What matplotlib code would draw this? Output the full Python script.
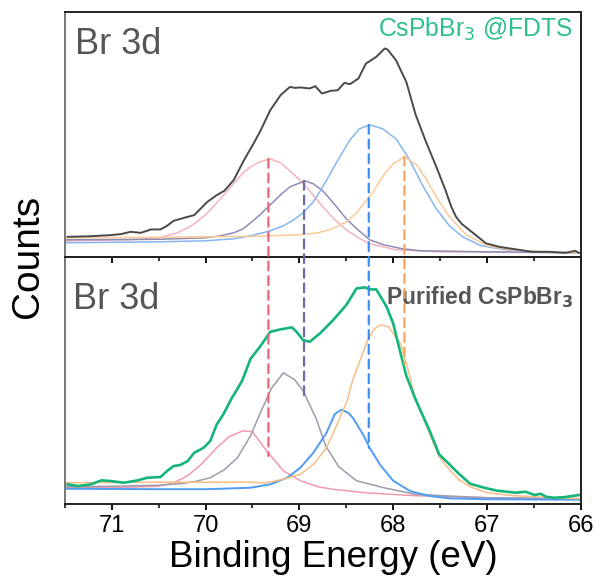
import matplotlib
matplotlib.use("Agg")
import matplotlib.pyplot as plt
from matplotlib.patches import ConnectionPatch
from matplotlib.ticker import MultipleLocator

plt.rcParams['font.family'] = ['Liberation Sans', 'DejaVu Sans']

# ---- top panel: CsPbBr3 @FDTS (measured + fitted components) ----
top_e = [71.47, 71.25, 71.01, 70.90, 70.80, 70.69, 70.58, 70.48, 70.41, 70.34, 70.19, 70.12,
         69.98, 69.88, 69.80, 69.70, 69.59, 69.49, 69.42, 69.31, 69.20, 69.10, 69.05, 68.99,
         68.89, 68.83, 68.76, 68.70, 68.67, 68.59, 68.52, 68.46, 68.37, 68.29, 68.18, 68.09,
         68.06, 67.97, 67.86, 67.76, 67.65, 67.54, 67.44, 67.38, 67.33, 67.27, 67.19, 67.01,
         66.87, 66.69, 66.52, 66.34, 66.16, 66.06, 66.02]
top_counts = [20, 20.5, 21.7, 22.7, 25, 24, 27.4, 27.4, 31, 36, 40, 41.7,
              55, 61.7, 66, 76.7, 96.7, 113, 125, 146.7, 161.7, 170, 169, 169.4,
              168.4, 170.7, 163.4, 165, 166, 166.7, 174, 172.7, 178.4, 193.4, 200, 208.4,
              207.4, 196.7, 175, 142, 115, 90, 66, 50, 40, 33, 27, 13.4,
              10, 7.4, 5, 5, 4, 6, 4]

top_pink_e = [71.5, 70.8, 70.5, 70.3, 70.15, 70.0, 69.85, 69.73, 69.6, 69.52, 69.42, 69.31,
              69.2, 69.03, 68.89, 68.75, 68.62, 68.5, 68.37, 68.25, 67.97, 67.5, 66.0]
top_pink = [16, 17, 19, 24, 31, 42, 57, 70, 84, 90, 95, 98,
            94, 80, 66, 50, 37, 27, 19, 13, 7, 5, 4]

top_purple_e = [71.5, 70.5, 70.0, 69.84, 69.7, 69.6, 69.52, 69.42, 69.31, 69.2, 69.1, 68.94,
                68.85, 68.75, 68.62, 68.5, 68.4, 68.25, 68.1, 67.9, 67.7, 67.0, 66.0]
top_purple = [17, 17.5, 19, 21, 24, 28, 34, 42, 52, 62, 70, 76,
              73, 66, 52, 38, 29, 17, 12, 8, 6, 5, 4]

top_blue_e = [71.5, 70.5, 70.0, 69.7, 69.52, 69.31, 69.17, 69.06, 68.96, 68.85, 68.75, 68.6,
              68.46, 68.36, 68.25, 68.11, 67.97, 67.83, 67.69, 67.54, 67.4, 67.26, 67.06,
              66.8, 66.5, 66.0]
top_blue = [14, 15, 16, 18, 21, 26, 31, 37, 44, 55, 70, 95,
            117, 128, 132, 128, 118, 98, 72, 48, 31, 20, 11,
            7, 5, 4]

top_orange_e = [71.5, 70.5, 70.0, 69.5, 69.0, 68.8, 68.65, 68.5, 68.4, 68.3, 68.22, 68.1,
                68.0, 67.88, 67.75, 67.65, 67.54, 67.4, 67.22, 67.0, 66.75, 66.4, 66.0]
top_orange = [19, 19.5, 20, 20.5, 22, 24, 28, 35, 43, 55, 64, 82,
              93, 100, 92, 78, 60, 40, 22, 11, 7, 5, 4]

# ---- bottom panel: purified CsPbBr3 ----
bot_e = [71.47, 71.36, 71.22, 71.11, 71.01, 70.87, 70.72, 70.62, 70.48, 70.41, 70.34, 70.27,
         70.19, 70.12, 70.02, 69.95, 69.88, 69.81, 69.73, 69.66, 69.61, 69.52, 69.42, 69.31,
         69.20, 69.08, 69.03, 68.96, 68.89, 68.78, 68.64, 68.50, 68.39, 68.30, 68.25, 68.18,
         68.07, 68.00, 67.93, 67.86, 67.76, 67.61, 67.51, 67.40, 67.30, 67.18, 67.03, 66.89,
         66.69, 66.59, 66.49, 66.43, 66.37, 66.29, 66.18, 66.02]
bot_counts = [19.4, 17.7, 19.4, 23.4, 22.7, 21, 23.4, 26, 26.7, 32.7, 37.7, 38.7,
              42.7, 51, 56, 62.7, 79.4, 89.4, 104, 115, 123, 145, 157, 172,
              174.4, 176.4, 172, 163.7, 162, 170.4, 183.7, 198.7, 215.4, 216.4, 214.4, 214.4,
              197, 180.4, 153.7, 128, 104, 72.7, 49.4, 39.4, 30, 20, 16, 13,
              11, 12, 8.7, 10, 7, 6, 6.5, 8.7]

bot_pink_e = [71.5, 70.8, 70.5, 70.34, 70.19, 70.05, 69.88, 69.75, 69.6, 69.5, 69.35, 69.17,
              68.99, 68.8, 68.64, 68.3, 67.76, 67.0, 66.0]
bot_pink = [16, 16.5, 17.5, 21, 28, 39, 56, 67, 73, 72, 53, 33,
            23, 17, 14.4, 11, 8, 6, 5]

bot_gray_e = [71.5, 71.0, 70.5, 70.27, 70.12, 69.95, 69.8, 69.66, 69.52, 69.42, 69.3, 69.17,
              69.05, 68.96, 68.82, 68.72, 68.58, 68.39, 68.1, 67.76, 67.4, 67.0, 66.0]
bot_gray = [17, 17.5, 18.5, 20, 22, 26, 34, 46, 68, 90, 115, 131,
            124, 113, 85, 58, 37, 23, 16, 9.4, 7.7, 6, 5]

bot_blue_e = [71.5, 70.5, 70.0, 69.52, 69.31, 69.13, 68.99, 68.85, 68.71, 68.62, 68.55, 68.48,
              68.43, 68.32, 68.25, 68.14, 68.0, 67.82, 67.61, 67.4, 67.0, 66.0]
bot_blue = [15, 14.5, 14.5, 16, 19.4, 26, 36, 51, 71, 90, 94, 91,
            86, 69, 56, 39, 23, 12.7, 7.7, 5.4, 4.5, 4]

bot_orange_e = [71.5, 70.5, 69.5, 69.38, 69.17, 68.99, 68.85, 68.71, 68.6, 68.49, 68.43, 68.35,
                68.27, 68.2, 68.13, 68.05, 67.92, 67.83, 67.77, 67.61, 67.51, 67.4, 67.3,
                67.18, 67.0, 66.7, 66.3, 66.0]
bot_orange = [21, 21.5, 21.5, 20.7, 24.4, 29.4, 39.4, 56, 79, 103, 124, 144,
              164, 175, 179, 177, 160, 130, 107, 70, 47, 34, 24,
              17, 11, 8, 6, 5]

# dashed guide lines: position, height in top panel, height in bottom panel
guide_e = [69.33, 68.95, 68.26, 67.88]
guide_top = [98, 76, 132, 100]
guide_bot = [47.7, 106, 56, 140]
guide_colors = ['#f06478', '#6c6aa8', '#3b8ef0', '#f7a35c']

xticks = [71, 70, 69, 68, 67, 66]

fig = plt.figure(figsize=(6, 5.81), dpi=100)
ax_top = fig.add_axes([0.108, 0.558, 0.860, 0.421])
ax_bot = fig.add_axes([0.108, 0.133, 0.860, 0.425])
ax_bot.patch.set_visible(False)

ax_top.plot(top_pink_e, top_pink, color='#f6b3bf', lw=1.1)
ax_top.plot(top_purple_e, top_purple, color='#8e8cb4', lw=1.1)
ax_top.plot(top_blue_e, top_blue, color='#86b6f2', lw=1.1)
ax_top.plot(top_orange_e, top_orange, color='#fbcb98', lw=1.1)
ax_top.plot(top_e, top_counts, color='#4a4a4a', lw=1.4)

ax_bot.plot(bot_pink_e, bot_pink, color='#f29aae', lw=1.1)
ax_bot.plot(bot_gray_e, bot_gray, color='#9d9cab', lw=1.1)
ax_bot.plot(bot_blue_e, bot_blue, color='#4f9cf2', lw=1.4)
ax_bot.plot(bot_orange_e, bot_orange, color='#f9bd86', lw=1.1)
ax_bot.plot(bot_e, bot_counts, color='#14b57a', lw=1.9)

ax_top.set_ylim(0, 244.7)
ax_bot.set_ylim(0, 247)

for ax in (ax_top, ax_bot):
    ax.set_xlim(71.5, 66)
    ax.set_xticks(xticks)
    ax.xaxis.set_minor_locator(MultipleLocator(0.5))
    ax.tick_params(axis='x', which='major', direction='out', length=4, width=1.3,
                   labelsize=17, pad=4)
    ax.tick_params(axis='x', which='minor', direction='out', length=3, width=1.1)
    ax.set_yticks([])
    for s in ax.spines.values():
        s.set_linewidth(1.4)
        s.set_color('#222222')
    ax.spines['left'].set_color('#777777')
ax_top.tick_params(axis='x', labelbottom=False)

for e, yt, yb, c in zip(guide_e, guide_top, guide_bot, guide_colors):
    con = ConnectionPatch(xyA=(e, yt), coordsA=ax_top.transData,
                          xyB=(e, yb), coordsB=ax_bot.transData,
                          color=c, lw=1.6, linestyle=(0, (4, 2.6)))
    fig.add_artist(con)

ax_top.text(0.02, 0.83, 'Br 3d', transform=ax_top.transAxes, fontsize=26, color='#555555')
ax_top.text(0.985, 0.90, 'CsPbBr$_3$ @FDTS', transform=ax_top.transAxes, fontsize=17.8,
            color='#2dbf8e', ha='right')
ax_bot.text(0.015, 0.79, 'Br 3d', transform=ax_bot.transAxes, fontsize=26, color='#555555')
ax_bot.text(0.985, 0.81, r'Purified CsPbBr$_\mathbf{3}$', transform=ax_bot.transAxes,
            fontsize=16.5, color='#555555', ha='right', fontweight='bold')

ax_bot.set_xlabel('Binding Energy (eV)', fontsize=26.5, labelpad=2)
ax_bot.xaxis.label.set_x(0.52)
fig.text(0.046, 0.558, 'Counts', rotation=90, fontsize=28, ha='center', va='center')

fig.savefig('out.png', dpi=100)
